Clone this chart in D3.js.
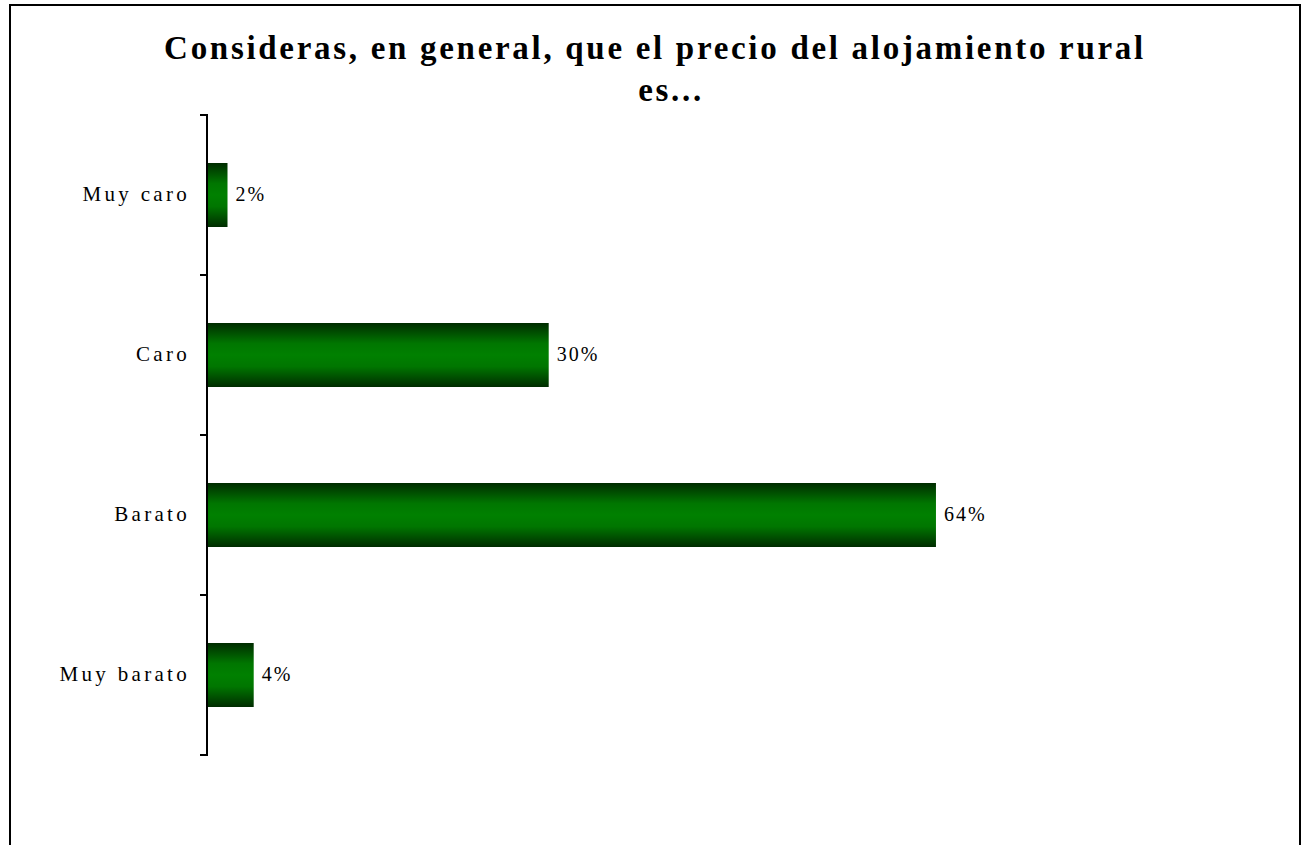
<!DOCTYPE html>
<html><head><meta charset="utf-8">
<script src="https://cdn.jsdelivr.net/npm/d3@7"></script>
<style>html,body{margin:0;padding:0;background:#fff;overflow:hidden}</style>
</head><body>
<script>
const categories = ["Muy caro", "Caro", "Barato", "Muy barato"];
const values = [0.018, 0.30, 0.64, 0.041];
const valueLabels = ["2%", "30%", "64%", "4%"];
const titleLines = ["Consideras, en general, que el precio del alojamiento rural", "es..."];

const W = 1301, H = 845;
const svg = d3.select("body").append("svg").attr("width", W).attr("height", H);

svg.append("rect").attr("x", 10).attr("y", 5).attr("width", 1290).attr("height", 850)
  .attr("fill", "#fff").attr("stroke", "#000").attr("stroke-width", 2);

const defs = svg.append("defs");
const g = defs.append("linearGradient").attr("id", "barGrad").attr("x1", 0).attr("y1", 0).attr("x2", 0).attr("y2", 1);
[["0%", "#002c00"], ["12%", "#004800"], ["32%", "#007600"], ["50%", "#008000"], ["68%", "#007600"], ["88%", "#004800"], ["100%", "#002c00"]]
  .forEach(([o, c]) => g.append("stop").attr("offset", o).attr("stop-color", c));

const x = d3.scaleLinear().domain([0, 0.7]).range([207, 207 + 0.7 * 1139]);
const y = d3.scaleBand().domain(categories).range([115, 755]).paddingInner(0.6).paddingOuter(0.3);

svg.selectAll(".bar").data(categories).enter().append("rect")
  .attr("x", x(0)).attr("y", d => y(d))
  .attr("width", (d, i) => x(values[i]) - x(0)).attr("height", y.bandwidth())
  .attr("fill", "url(#barGrad)");

const yAxisG = svg.append("g").attr("stroke", "#000").attr("stroke-width", 2);
yAxisG.append("line").attr("x1", 207).attr("x2", 207).attr("y1", 114).attr("y2", 756);
const bounds = [115, ...categories.map(c => y(c) - y.step() * 0.3 + y.step())];
bounds.forEach(b => yAxisG.append("line").attr("x1", 200).attr("x2", 207).attr("y1", b).attr("y2", b));

const font = "Liberation Serif, Times New Roman, serif";
svg.selectAll(".cat").data(categories).enter().append("text")
  .attr("x", 190).attr("y", d => y(d) + y.bandwidth() / 2 - 1)
  .attr("dy", "0.35em").attr("text-anchor", "end")
  .attr("font-family", font).attr("font-size", 21)
  .attr("letter-spacing", 3.3).attr("fill", "#000").text(d => d);

svg.selectAll(".val").data(categories).enter().append("text")
  .attr("x", (d, i) => x(values[i]) + 8).attr("y", d => y(d) + y.bandwidth() / 2 - 1)
  .attr("dy", "0.35em")
  .attr("font-family", font).attr("font-size", 20)
  .attr("letter-spacing", 2).attr("fill", "#000").text((d, i) => valueLabels[i]);

svg.selectAll(".title").data(titleLines).enter().append("text")
  .attr("x", (d, i) => i === 0 ? 655 : 671).attr("y", (d, i) => 59 + i * 42)
  .attr("text-anchor", "middle")
  .attr("font-family", font).attr("font-weight", "bold")
  .attr("font-size", 33).attr("letter-spacing", 2.7).attr("fill", "#000").text(d => d);
</script>
</body></html>
